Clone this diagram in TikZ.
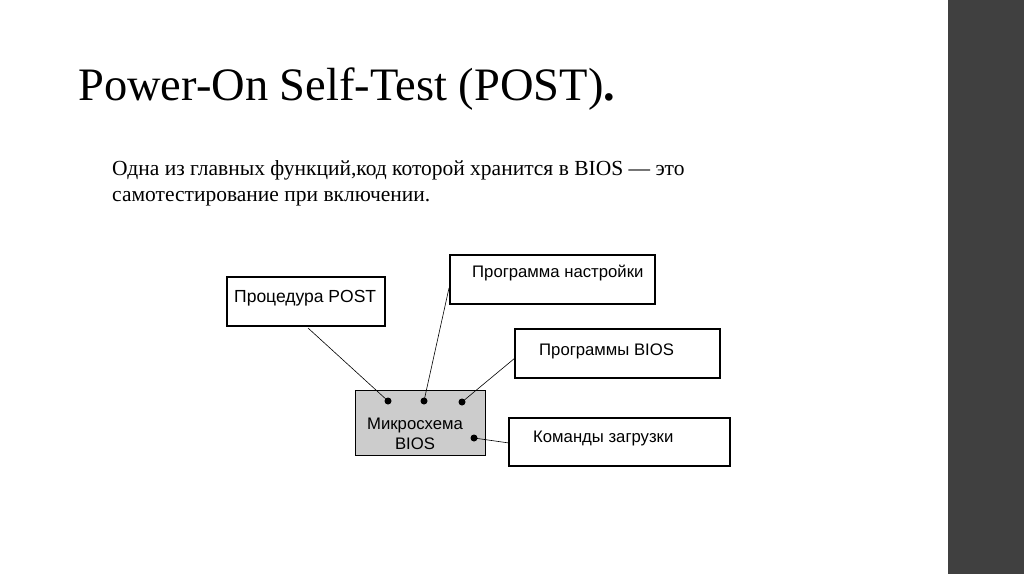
\documentclass[tikz,border=0pt]{standalone}
\usepackage{fontspec}
\setmainfont{Liberation Serif}
\newfontfamily\arialf{Liberation Sans}
\begin{document}
\begin{tikzpicture}[x=1pt,y=-1pt,
  boxs/.style={draw,line width=1.6pt,inner sep=0pt},
  lbl/.style={font=\arialf\fontsize{16.7}{19}\selectfont,anchor=west,inner sep=0pt},
  dotn/.style={circle,fill=black,inner sep=0pt,minimum size=7pt},
  wire/.style={line width=0.6pt}]
\useasboundingbox (0,0) rectangle (1024,574);
\fill[white] (0,0) rectangle (1024,574);
\fill[black!75] (948,0) rectangle (1024,574);
\node[anchor=base west,inner sep=0pt,font=\fontsize{46.5}{52}\selectfont] (title) at (78,100) {Power-On Self-Test (POST)\textbf{.}};
\node[anchor=base west,inner sep=0pt,font=\fontsize{21.5}{26}\selectfont,align=left] (body) at (112,201) {Одна из главных функций,код которой хранится в BIOS — это\\самотестирование при включении.};
% boxes
\draw[boxs] (227,277) rectangle (385,326);
\draw[boxs] (450,255) rectangle (655,304);
\draw[boxs] (515,329) rectangle (720,378);
\draw[boxs] (509,418) rectangle (730,466);
\draw[line width=1pt,fill=black!20] (355,390) rectangle (485,455);
\node[lbl,font=\arialf\fontsize{17.5}{20}\selectfont] (post) at (234,298) {Процедура POST};
\node[lbl] (nastr) at (472,273) {Программа настройки};
\node[lbl] (bios) at (539,351) {Программы BIOS};
\node[lbl] (boot) at (533,438) {Команды загрузки};
\node[font=\arialf\fontsize{16.7}{20}\selectfont,align=center,inner sep=0pt] (chip) at (415,434) {Микросхема\\BIOS};
% dots
\node[dotn] (d1) at (388,401) {};
\node[dotn] (d2) at (424,401) {};
\node[dotn] (d3) at (462,402) {};
\node[dotn] (d4) at (474,438) {};
\coordinate (c1) at (308,328);
\coordinate (c2) at (449,288);
\coordinate (c3) at (515,358);
\coordinate (c4) at (509,443);
\draw[wire] (c1) -- (d1.center);
\draw[wire] (c2) -- (d2.center);
\draw[wire] (c3) -- (d3.center);
\draw[wire] (c4) -- (d4.center);
\end{tikzpicture}
\end{document}
